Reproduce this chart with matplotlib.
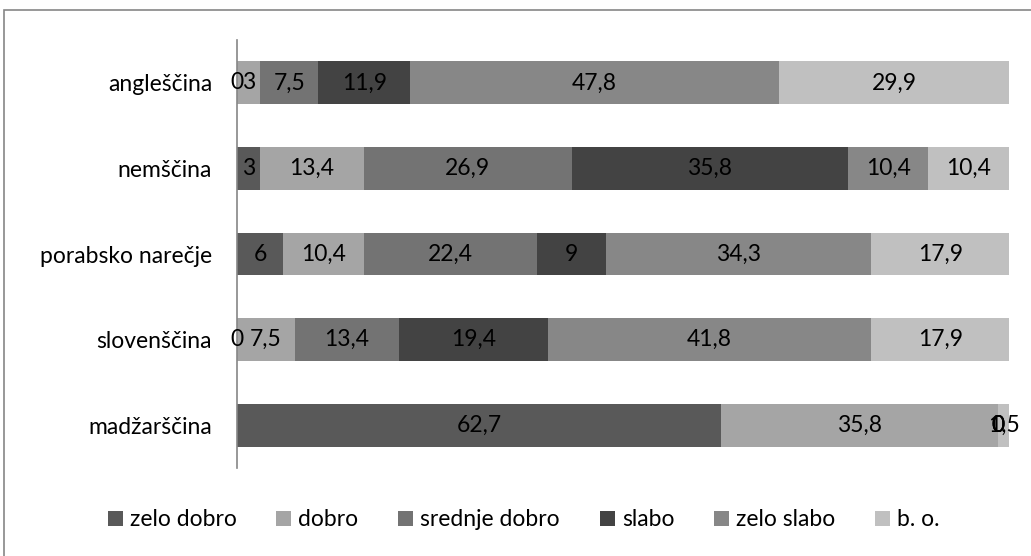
import numpy as np
import matplotlib.pyplot as plt
from matplotlib.patches import Rectangle

plt.rcParams['font.family'] = ['Lato', 'DejaVu Sans']

categories = ["madžarščina", "slovenščina", "porabsko narečje", "nemščina", "angleščina"]
series = ["zelo dobro", "dobro", "srednje dobro", "slabo", "zelo slabo", "b. o."]
values = {
    "zelo dobro":    [62.7, 0.0, 6.0, 3.0, 0.0],
    "dobro":         [35.8, 7.5, 10.4, 13.4, 3.0],
    "srednje dobro": [0.0, 13.4, 22.4, 26.9, 7.5],
    "slabo":         [0.0, 19.4, 9.0, 35.8, 11.9],
    "zelo slabo":    [0.0, 41.8, 34.3, 10.4, 47.8],
    "b. o.":         [1.5, 17.9, 17.9, 10.4, 29.9],
}
colors = ["#595959", "#a5a5a5", "#737373", "#434343", "#878787", "#c0c0c0"]

FS = 16.5


def fmt(v):
    s = f"{v:.1f}".rstrip("0").rstrip(".")
    return s.replace(".", ",")


fig = plt.figure(figsize=(10.31, 5.56), dpi=100)
ax = fig.add_axes([0.23, 0.158, 0.749, 0.77])

y = np.arange(len(categories))
left = np.zeros(len(categories))
for name, col in zip(series, colors):
    vals = np.array(values[name])
    ax.barh(y, vals, left=left, height=0.5, color=col, label=name)
    for yi, (l, v) in enumerate(zip(left, vals)):
        ax.text(l + v / 2, yi, fmt(v), ha="center", va="center",
                fontsize=FS, color="black")
    left += vals

ax.set_xlim(0, 100)
ax.set_ylim(-0.5, len(categories) - 0.5)
ax.set_yticks(y)
ax.set_yticklabels(categories, fontsize=FS)
ax.tick_params(axis="y", length=0, pad=18)
ax.set_xticks([])
for side in ["top", "right", "bottom"]:
    ax.spines[side].set_visible(False)
ax.spines["left"].set_color("#868686")
ax.spines["left"].set_linewidth(1.2)

fig.legend(loc="center", bbox_to_anchor=(0.508, 0.065), ncol=6, frameon=False,
           fontsize=FS, handlelength=0.65, handleheight=0.65, handletextpad=0.3,
           columnspacing=1.75)

fig.patches.append(Rectangle((4 / 1031, -0.01), 1.05, 1 - 10 / 556 + 0.01,
                             transform=fig.transFigure, fill=False,
                             edgecolor="#868686", linewidth=1.2))

fig.savefig("out.png", dpi=100)
